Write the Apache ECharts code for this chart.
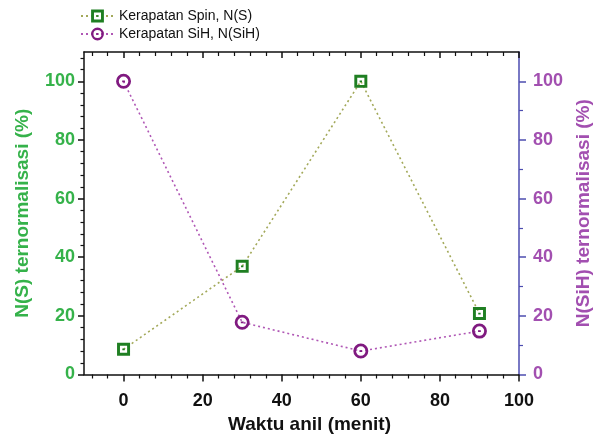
<!DOCTYPE html>
<html>
<head>
<meta charset="utf-8">
<script src="https://cdn.jsdelivr.net/npm/echarts@6/dist/echarts.min.js"></script>
<style>html,body{margin:0;padding:0;background:#fff}#c{width:602px;height:435px}</style>
</head>
<body>
<div id="c"></div>
<script>
// Data
const times = [0, 30, 60, 90];
const spinDensity = [8.6, 36.9, 100, 20.8];
const sihDensity = [100, 17.8, 8, 14.8];
const xMajorTicks = [0, 20, 40, 60, 80, 100];
const xMinorTicks = [-8, -4, 4, 8, 12, 16, 24, 28, 32, 36, 44, 48, 52, 56, 64, 68, 72, 76, 84, 88, 92, 96];
const yLeftMajor = [0, 20, 40, 60, 80, 100];
const yLeftMinor = [4, 8, 12, 16, 24, 28, 32, 36, 44, 48, 52, 56, 64, 68, 72, 76, 84, 88, 92, 96, 104, 108];
const yRightMajor = [0, 20, 40, 60, 80, 100];
const yRightMinor = [10, 30, 50, 70, 90];

const FONT = "'Liberation Sans', Arial, sans-serif";
const GREEN_TXT = '#35b24a';
const PURPLE_TXT = '#a24fb0';
const RIGHT_LINE = '#4d4db0';

const squareDot = 'path://M0,0 H12 V12 H0 Z M2.7,2.7 V9.3 H9.3 V2.7 Z M4.9,5.2 H7.1 V6.8 H4.9 Z';
const circleDot = 'path://M6,0 A6,6 0 1,1 6,12 A6,6 0 1,1 6,0 Z M6,2.2 A3.8,3.8 0 1,0 6,9.8 A3.8,3.8 0 1,0 6,2.2 Z M4.9,5.3 H7.1 V6.7 H4.9 Z';

const xMin = -10, xMax = 100, yMin = 0, yMax = 110;

function xAx(opts) {
  return Object.assign({
    type: 'value', min: xMin, max: xMax, position: 'bottom',
    splitLine: { show: false },
    axisLine: { show: false, onZero: false },
    axisTick: { show: false },
    axisLabel: { show: false }
  }, opts);
}
function yAx(opts) {
  return Object.assign({
    type: 'value', min: yMin, max: yMax, position: 'left',
    splitLine: { show: false },
    axisLine: { show: false, onZero: false },
    axisTick: { show: false },
    axisLabel: { show: false }
  }, opts);
}

const chart = echarts.init(document.getElementById('c'), null, { renderer: 'canvas' });
chart.setOption({
  animation: false,
  backgroundColor: '#fff',
  grid: { left: 84, right: 83, top: 52, bottom: 60.5, containLabel: false, outerBoundsMode: 'none' },
  legend: {
    orient: 'vertical', left: 80, top: 9, padding: 0, itemWidth: 33, itemHeight: 16, itemGap: 4,
    textStyle: { fontFamily: FONT, fontSize: 14, color: '#111' },
    data: ['Kerapatan Spin, N(S)', 'Kerapatan SiH, N(SiH)']
  },
  xAxis: [
    xAx({
      axisLine: { show: true, onZero: false, lineStyle: { color: '#111', width: 1.5 } },
      axisTick: { show: true, inside: false, length: 7, customValues: xMajorTicks, lineStyle: { color: '#111', width: 1.5 } },
      axisLabel: { show: true, customValues: xMajorTicks, margin: 18, fontFamily: FONT, fontSize: 18, fontWeight: 'bold', color: '#111' },
      name: 'Waktu anil (menit)', nameLocation: 'middle', nameGap: 41,
      nameTextStyle: { fontFamily: FONT, fontSize: 19, fontWeight: 'bold', color: '#111', padding: [0, 0, 0, 16] }
    }),
    xAx({
      axisTick: { show: true, inside: false, length: 4, customValues: xMinorTicks, lineStyle: { color: '#111', width: 1.2 } }
    }),
    xAx({
      position: 'top',
      axisLine: { show: true, onZero: false, lineStyle: { color: '#111', width: 1.5 } },
      axisTick: { show: true, inside: true, length: 6, customValues: xMajorTicks, lineStyle: { color: '#111', width: 1.5 } }
    }),
    xAx({
      position: 'top',
      axisTick: { show: true, inside: true, length: 4, customValues: xMinorTicks, lineStyle: { color: '#111', width: 1.2 } }
    })
  ],
  yAxis: [
    yAx({
      axisLine: { show: true, onZero: false, lineStyle: { color: '#111', width: 1.5 } },
      axisTick: { show: true, inside: false, length: 6, customValues: yLeftMajor, lineStyle: { color: '#111', width: 1.5 } },
      axisLabel: { show: true, customValues: yLeftMajor, margin: 9, fontFamily: FONT, fontSize: 18, fontWeight: 'bold', color: GREEN_TXT },
      name: 'N(S) ternormalisasi (%)', nameLocation: 'middle', nameGap: 52, nameRotate: 90,
      nameTextStyle: { fontFamily: FONT, fontSize: 19, fontWeight: 'bold', color: GREEN_TXT }
    }),
    yAx({
      axisTick: { show: true, inside: false, length: 3.5, customValues: yLeftMinor, lineStyle: { color: '#111', width: 1.2 } }
    }),
    yAx({
      position: 'right',
      axisLine: { show: true, onZero: false, lineStyle: { color: RIGHT_LINE, width: 1.5 } },
      axisTick: { show: true, inside: false, length: 7, customValues: yRightMajor, lineStyle: { color: RIGHT_LINE, width: 1.5 } },
      axisLabel: { show: true, customValues: yRightMajor, margin: 14, fontFamily: FONT, fontSize: 18, fontWeight: 'bold', color: PURPLE_TXT },
      name: 'N(SiH) ternormalisasi (%)', nameLocation: 'middle', nameGap: 53, nameRotate: 90,
      nameTextStyle: { fontFamily: FONT, fontSize: 19, fontWeight: 'bold', color: PURPLE_TXT }
    }),
    yAx({
      position: 'right',
      axisTick: { show: true, inside: false, length: 4, customValues: yRightMinor, lineStyle: { color: RIGHT_LINE, width: 1.2 } }
    })
  ],
  series: [
    {
      name: 'Kerapatan Spin, N(S)', type: 'line', xAxisIndex: 0, yAxisIndex: 0,
      data: times.map((t, i) => [t, spinDensity[i]]),
      symbol: squareDot, symbolSize: 13, showAllSymbol: true,
      lineStyle: { type: [2, 3], width: 1.6, color: '#a3a95a' },
      itemStyle: { color: '#1f7f22' },
      z: 3
    },
    {
      name: 'Kerapatan SiH, N(SiH)', type: 'line', xAxisIndex: 0, yAxisIndex: 2,
      data: times.map((t, i) => [t, sihDensity[i]]),
      symbol: circleDot, symbolSize: 15, showAllSymbol: true,
      lineStyle: { type: [2, 3], width: 1.6, color: '#b057b5' },
      itemStyle: { color: '#801a80' },
      z: 3
    }
  ]
});
</script>
</body>
</html>
